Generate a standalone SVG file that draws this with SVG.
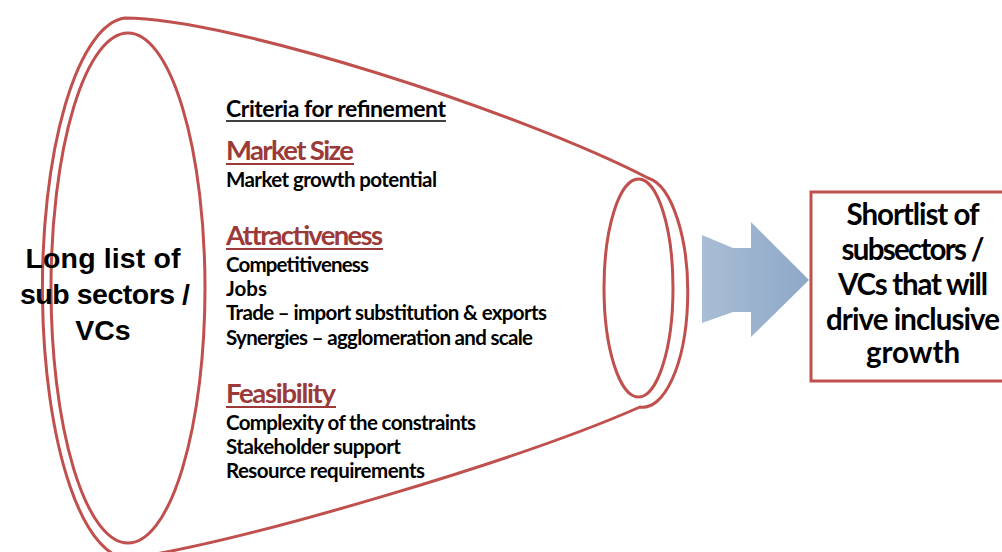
<svg xmlns="http://www.w3.org/2000/svg" width="1002" height="552" viewBox="0 0 1002 552">
  <defs>
    <linearGradient id="arrowGrad" x1="0" y1="0" x2="1" y2="0">
      <stop offset="0" stop-color="#A9BDD5"/>
      <stop offset="1" stop-color="#8DA8C7"/>
    </linearGradient>
    <style>
      .outline { fill: none; stroke: #C0504D; stroke-width: 3; }
      .big { font-family: "Liberation Sans", Arial, sans-serif; font-weight: bold; font-size: 28.5px; fill: #000; text-anchor: middle; }
      .box { font-family: Lato, "Open Sans", sans-serif; font-weight: bold; font-size: 29.5px; fill: #000; text-anchor: middle; }
      .crit { font-family: Lato, "Open Sans", sans-serif; font-weight: bold; font-size: 23px; fill: #000; }
      .head { font-family: Lato, "Open Sans", sans-serif; font-weight: bold; font-size: 27.5px; fill: #9B3A38; }
      .item { font-family: Lato, "Open Sans", sans-serif; font-weight: bold; font-size: 20.5px; fill: #000; }
      .ul-black { stroke: #000; stroke-width: 1.6; }
      .ul-red { stroke: #9B3A38; stroke-width: 1.8; }
    </style>
  </defs>
  <rect width="1002" height="552" fill="#FFFFFF"/>

  <g id="funnel">
    <path class="outline" d="M 125,18 C 230,18 520,112 648,178 A 45 115 0 0 1 640,407 C 520,460 250,540 132,558 A 86 270 0 0 1 125,18 Z"/>
    <ellipse class="outline" cx="128" cy="288" rx="77" ry="255"/>
    <ellipse class="outline" cx="638.5" cy="288" rx="34.5" ry="109"/>
  </g>

  <g id="long-list">
    <text class="big" x="103" y="268" textLength="155">Long list of</text>
    <text class="big" x="105" y="304" textLength="170">sub sectors /</text>
    <text class="big" x="103" y="340">VCs</text>
  </g>

  <g id="criteria">
    <text class="crit" x="226" y="117" textLength="220">Criteria for refinement</text>
    <line class="ul-black" x1="226" y1="121" x2="446" y2="121"/>

    <text class="head" x="226" y="160" textLength="128">Market Size</text>
    <line class="ul-red" x1="226" y1="164" x2="354" y2="164"/>
    <text class="item" x="226" y="187" textLength="211">Market growth potential</text>

    <text class="head" x="226" y="245" textLength="157">Attractiveness</text>
    <line class="ul-red" x1="226" y1="249" x2="383" y2="249"/>
    <text class="item" x="226" y="272" textLength="143">Competitiveness</text>
    <text class="item" x="226" y="296">Jobs</text>
    <text class="item" x="226" y="320" textLength="321">Trade – import substitution &amp; exports</text>
    <text class="item" x="226" y="345" textLength="307">Synergies – agglomeration and scale</text>

    <text class="head" x="226" y="403" textLength="110">Feasibility</text>
    <line class="ul-red" x1="226" y1="407" x2="336" y2="407"/>
    <text class="item" x="226" y="430" textLength="250">Complexity of the constraints</text>
    <text class="item" x="226" y="454" textLength="175">Stakeholder support</text>
    <text class="item" x="226" y="478" textLength="199">Resource requirements</text>
  </g>

  <g id="connectors">
    <path fill="url(#arrowGrad)" d="M 702,235 L 733,248 L 751,248 L 751,222 L 809,280 L 751,337 L 751,312 L 733,312 L 702,323 Z"/>
  </g>

  <g id="shortlist">
    <rect x="811" y="192" width="200" height="189" fill="#FFFFFF" stroke="#C0504D" stroke-width="3"/>
    <text class="box" x="913" y="225" textLength="133">Shortlist of</text>
    <text class="box" x="913" y="260" textLength="143">subsectors /</text>
    <text class="box" x="913" y="295" textLength="150">VCs that will</text>
    <text class="box" x="913" y="330" textLength="174">drive inclusive</text>
    <text class="box" x="913" y="363">growth</text>
  </g>
</svg>
